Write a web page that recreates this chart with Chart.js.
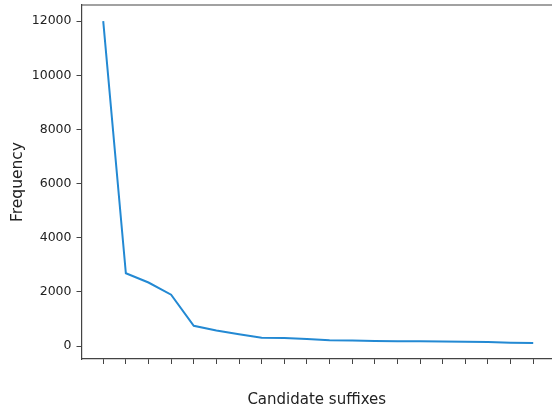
<!DOCTYPE html>
<html>
<head>
<meta charset="utf-8">
<script src="https://cdn.jsdelivr.net/npm/chart.js@4.4.0/dist/chart.umd.min.js"></script>
<style>
  html, body { margin: 0; padding: 0; background: #fff; overflow: hidden; }
  #wrap { width: 552px; height: 414px; }
</style>
</head>
<body>
<div id="wrap"><canvas id="suffixChart" width="552" height="414"></canvas></div>
<script>
// candidate suffixes (unlabelled on the x axis), ranked by frequency
var suffixIndex = [0, 1, 2, 3, 4, 5, 6, 7, 8, 9, 10, 11, 12, 13, 14, 15, 16, 17, 18, 19];
var frequency = [12000, 2690, 2350, 1900, 750, 580, 440, 310, 300, 260, 220, 205, 195, 185, 180, 175, 160, 150, 130, 120];
var yTicks = [0, 2000, 4000, 6000, 8000, 10000, 12000];

var points = suffixIndex.map(function (x, i) { return { x: x, y: frequency[i] }; });

// top spine (the right one falls outside the picture)
var topSpine = {
    id: 'topSpine',
    afterDraw: function (chart) {
        var a = chart.chartArea, ctx = chart.ctx;
        ctx.save();
        ctx.strokeStyle = '#444';
        ctx.lineWidth = 1.2;
        ctx.beginPath();
        ctx.moveTo(a.left, a.top);
        ctx.lineTo(chart.width, a.top);
        ctx.stroke();
        ctx.restore();
    }
};

new Chart(document.getElementById('suffixChart').getContext('2d'), {
    type: 'line',
    data: {
        datasets: [{
            data: points,
            borderColor: '#2389d3',
            borderWidth: 2,
            pointRadius: 0,
            tension: 0,
            fill: false
        }]
    },
    options: {
        responsive: false,
        animation: false,
        layout: { padding: { top: 5, left: 0, right: 0, bottom: 0 } },
        plugins: { legend: { display: false }, tooltip: { enabled: false } },
        scales: {
            x: {
                type: 'linear',
                min: -0.96,
                max: 19.83,
                afterBuildTicks: function (scale) {
                    scale.ticks = suffixIndex.map(function (v) { return { value: v }; });
                },
                ticks: { callback: function () { return ''; }, padding: 0 },
                grid: { drawOnChartArea: false, drawTicks: true, tickLength: 5, color: '#444' },
                border: { display: true, color: '#444', width: 1.2 },
                title: {
                    display: true,
                    text: 'Candidate suffixes',
                    color: '#222',
                    font: { family: 'DejaVu Sans', size: 15 },
                    padding: { top: 0, bottom: 5 }
                },
                afterFit: function (scale) { scale.height = 55; scale.paddingRight = 0; scale.paddingLeft = 0; }
            },
            y: {
                min: -474,
                max: 12594,
                afterBuildTicks: function (scale) {
                    scale.ticks = yTicks.map(function (v) { return { value: v }; });
                },
                ticks: {
                    color: '#222',
                    padding: 5,
                    font: { family: 'DejaVu Sans', size: 12.5 },
                    callback: function (v) { return String(v); }
                },
                grid: { drawOnChartArea: false, drawTicks: true, tickLength: 5, color: '#444' },
                border: { display: true, color: '#444', width: 1.2 },
                title: {
                    display: true,
                    text: 'Frequency',
                    color: '#222',
                    font: { family: 'DejaVu Sans', size: 15.5 },
                    padding: { top: 9, bottom: 0 }
                },
                afterFit: function (scale) { scale.width = 81.5; scale.paddingTop = 0; scale.paddingBottom = 0; }
            }
        }
    },
    plugins: [topSpine]
});
</script>
</body>
</html>
